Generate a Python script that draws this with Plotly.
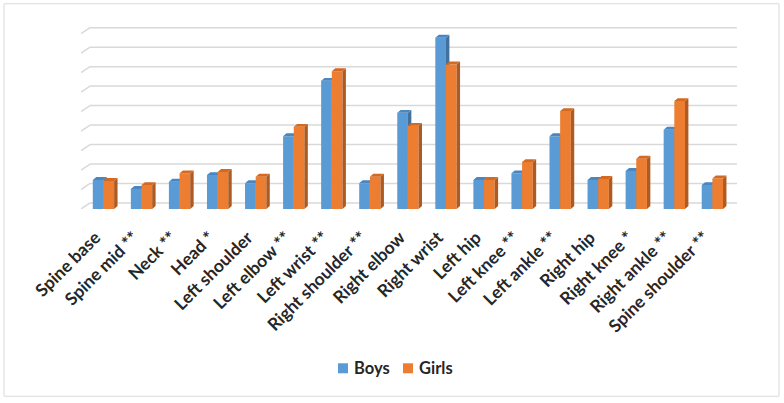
import plotly.graph_objects as go

categories = ["Spine base", "Spine mid **", "Neck **", "Head *", "Left shoulder",
              "Left elbow **", "Left wrist **", "Right shoulder **", "Right elbow",
              "Right wrist", "Left hip", "Left knee **", "Left ankle **", "Right hip",
              "Right knee *", "Right ankle **", "Spine shoulder **"]
boys = [1.49, 1.03, 1.40, 1.74, 1.32, 3.74, 6.58, 1.32, 4.94, 8.80,
        1.49, 1.83, 3.74, 1.49, 1.95, 4.07, 1.23]
girls = [1.44, 1.23, 1.83, 1.90, 1.66, 4.22, 7.08, 1.66, 4.27, 7.42,
         1.49, 2.41, 5.03, 1.54, 2.58, 5.54, 1.57]
series_names = ["Boys", "Girls"]
grid_values = list(range(10))

# geometry (in axis units)
BW = 0.28          # bar front width
DX, DY = 0.09, 0.15  # 3D depth offsets for bars
GX, GY = 0.237, 0.31  # depth offsets for back wall
X0, X1 = -0.5, 16.737
Y_TOP = 9.5

# pixel layout
L, R = 81, 784 - 737
T = 24.25
B = 403 - 209.5
pw = 784 - L - R
ph = 403 - T - B


def px_x(p):
    return (p - L) / pw


def px_y(p):
    return (403 - B - p) / ph


def faces(values, left_off):
    fx, fy, sx, sy, tx, ty = [], [], [], [], [], []
    for i, v in enumerate(values):
        a = i + left_off
        b = a + BW
        fx += [a, b, b, a, a, None]
        fy += [0, 0, v, v, 0, None]
        sx += [b, b + DX, b + DX, b, b, None]
        sy += [0, DY, v + DY, v, 0, None]
        tx += [a, b, b + DX, a + DX, a, None]
        ty += [v, v, v + DY, v + DY, v, None]
    return (fx, fy), (sx, sy), (tx, ty)


fig = go.Figure()

series = [
    (series_names[0], boys, -0.19, "#5B9BD5", "#41719C", "#4A86C0", 338),
    (series_names[1], girls, 0.09, "#ED7D31", "#AE5A21", "#D46A22", 403),
]
shapes = []
annotations = []
for name, vals, off, c_front, c_side, c_top, lx in series:
    f, s, t = faces(vals, off)
    for k, ((xx, yy), col) in enumerate(((f, c_front), (s, c_side), (t, c_top))):
        fig.add_trace(go.Scatter(x=xx, y=yy, mode="lines", fill="toself",
                                 fillcolor=col, line=dict(width=0, color=col),
                                 name=name, legendgroup=name,
                                 hoverinfo="skip", showlegend=False))
    # legend key
    shapes.append(dict(type="rect", xref="paper", yref="paper",
                       x0=px_x(lx), x1=px_x(lx + 10), y0=px_y(374), y1=px_y(364),
                       fillcolor=c_front, line=dict(width=0)))
    annotations.append(dict(xref="paper", yref="paper", x=px_x(lx + 14), y=px_y(369),
                            xanchor="left", yanchor="middle", showarrow=False,
                            text=name,
                            font=dict(family="Lato", size=16.5, color="#262626",
                                      weight="bold")))

# back wall gridlines
for v in grid_values:
    shapes.append(dict(type="line", xref="x", yref="y", x0=X0 + GX, x1=X1,
                       y0=v + GY, y1=v + GY, line=dict(color="#D9D9D9", width=1.5),
                       layer="below"))
    shapes.append(dict(type="line", xref="x", yref="y", x0=X0, x1=X0 + GX,
                       y0=v, y1=v + GY, line=dict(color="#D9D9D9", width=1.5),
                       layer="below"))

# chart border
shapes.append(dict(type="rect", xref="paper", yref="paper",
                   x0=px_x(4), x1=px_x(779), y0=px_y(397), y1=px_y(4),
                   line=dict(color="#D9D9D9", width=1)))

fig.update_layout(
    width=784, height=403,
    margin=dict(l=L, r=R, t=T, b=B, autoexpand=False),
    plot_bgcolor="white", paper_bgcolor="white",
    shapes=shapes, annotations=annotations,
    showlegend=False,
    font=dict(family="Lato", color="#262626"),
)
fig.update_xaxes(range=[X0, X1], tickvals=[i - 0.12 for i in range(len(categories))],
                 ticktext=categories, tickangle=-45, showgrid=False, zeroline=False,
                 showline=False, ticks="", ticklabelstandoff=14, automargin=False,
                 tickfont=dict(family="Lato", size=17.5, color="#262626", weight="bold"))
fig.update_yaxes(range=[0, Y_TOP], showgrid=False, zeroline=False, automargin=False,
                 showticklabels=False, showline=False)

fig.write_html("out.html", config={"displayModeBar": False},
               post_script="document.body.style.margin='0';document.body.style.overflow='hidden';")
